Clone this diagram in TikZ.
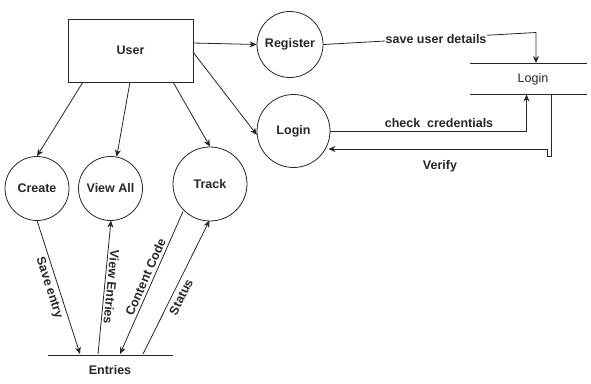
\documentclass[tikz,border=0pt]{standalone}
\usepackage{fontspec}
\setmainfont{Liberation Sans}
\usetikzlibrary{arrows.meta}
\begin{document}
\begin{tikzpicture}[x=1pt,y=-1pt,
  line width=0.8pt,
  every node/.style={font=\fontsize{12.5}{14}\selectfont\bfseries, text=black!85},
  proc/.style={draw=black!85, circle, inner sep=0pt},
  flow/.style={draw=black!85, -{Stealth[length=7pt,width=6pt]}},
  store/.style={draw=black!85},
  lbl/.style={inner sep=1pt}
]
\useasboundingbox (0,0) rectangle (591,383);

% external entity
\node[draw=black!85, minimum width=125pt, minimum height=63pt, inner sep=0pt] (user) at (130.5,50.5) {User};

% processes
\node[proc, minimum size=66pt] (register) at (290,44.5) {Register};
\node[proc, minimum size=73pt] (login) at (293.5,131) {Login};
\node[proc, minimum size=64pt] (create) at (37,188.5) {Create};
\node[proc, minimum size=64pt] (viewall) at (110.5,188.5) {View All};
\node[proc, minimum size=74pt] (track) at (210,184) {Track};

% data stores
\coordinate (ls1) at (470,63);
\coordinate (ls2) at (587,63);
\coordinate (ls3) at (470,94.5);
\coordinate (ls4) at (587,94.5);
\draw[store] (ls1) -- (ls2);
\draw[store] (ls3) -- (ls4);
\node[font=\fontsize{12.5}{14}\selectfont] (loginstore) at (533,79) {Login};

\coordinate (es1) at (48,355);
\coordinate (es2) at (173,355);
\draw[store] (es1) -- (es2);
\node (entries) at (110,370) {Entries};

% flows from the user
\coordinate (u1) at (83,82);
\coordinate (u2) at (130,82);
\coordinate (u3) at (173,82);
\coordinate (u4) at (193,43);
\coordinate (u5) at (193,52);
\draw[flow] (u1) -- (create.north);
\draw[flow] (u2) -- (viewall.79);
\draw[flow] (u3) -- (track.north);
\draw[flow] (u4) -- (register.west);
\draw[flow] (u5) -- (login.186);

% register -> login store
\coordinate (sv1) at (536,32.5);
\coordinate (sv2) at (536,63);
\draw[flow] (register.east) -- node[lbl, fill=white, pos=0.53, yshift=-1pt] (savelbl) {save user details} (sv1) -- (sv2);

% check credentials
\coordinate (cc1) at (526.5,131);
\coordinate (cc2) at (526.5,94.5);
\draw[flow] (login.east) -- (cc1) -- (cc2);
\node[lbl] (cclbl) at (439,123) {check\ \ credentials};

% verify
\coordinate (vf1) at (551.5,94.5);
\coordinate (vf2) at (551.5,156);
\coordinate (vf3) at (547.5,156);
\coordinate (vf4) at (547.5,149);
\coordinate (vf5) at (328.5,149);
\draw[flow] (vf1) -- (vf2) -- (vf3) -- (vf4) -- (vf5);
\node[lbl] (vflbl) at (440,166) {Verify};

% flows with the entries store
\coordinate (e1) at (80,354);
\coordinate (e2) at (98,354);
\coordinate (e3) at (120,354);
\coordinate (e4) at (143,354);
\coordinate (c1) at (37,220.5);
\coordinate (v1) at (111,220.5);
\coordinate (t1) at (183,211.5);
\coordinate (t2) at (209.5,220.5);
\draw[flow] (c1) -- (e1);
\draw[flow] (e2) -- (v1);
\draw[flow] (t1) -- (e3);
\draw[flow] (e4) -- (t2);

\node[lbl, rotate=-72] (selbl) at (49,288) {Save entry};
\node[lbl, rotate=-95.5] (velbl) at (111.5,287) {View Entries};
\node[lbl, rotate=66] (cclbl2) at (145.5,277) {Content Code};
\node[lbl, rotate=63.5] (stlbl) at (181,297) {Status};
\end{tikzpicture}
\end{document}
